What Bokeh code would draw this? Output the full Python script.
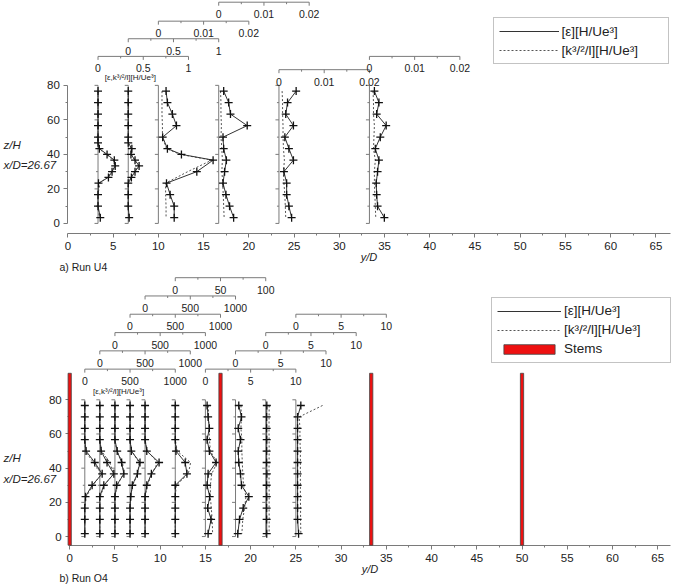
from bokeh.plotting import figure
from bokeh.models import FixedTicker, Legend, LegendItem, Range1d
from bokeh.layouts import column
from bokeh.embed import file_html
from bokeh.resources import INLINE
from bokeh.core.properties import value

# ======================= DATA =======================
# ---- a) Run U4 ----
a_base = [3.33, 6.67, 10.0, 16.67, 23.33, 33.33]          # y/D of each profile
a_full = [1.0, 1.0, 0.02, 0.02, 0.02, 0.02]              # full scale of each profile axis
a_ticks = [["0", "0.5", "1"], ["0", "0.5", "1"],
           ["0", "0.01", "0.02"], ["0", "0.01", "0.02"],
           ["0", "0.01", "0.02"], ["0", "0.01", "0.02"]]
a_z_fine = [76.67, 70.0, 63.33, 56.67, 50.0, 46.67, 43.33, 40.0, 36.67, 33.33, 30.0, 26.67, 23.33, 16.67, 10.0, 3.33]
a_z_mid = [76.67, 70.0, 63.33, 56.67, 50.0, 43.33, 40.0, 36.67, 30.0, 23.33, 16.67, 10.0, 3.33]
a_z_std = [76.67, 70.0, 63.33, 56.67, 50.0, 43.33, 36.67, 30.0, 23.33, 16.67, 10.0, 3.33]

a_eps_1 = [0.0, 0.0, 0.0, 0.0, 0.0, 0.0, 0.015, 0.10, 0.18, 0.19, 0.155, 0.115, 0.005, 0.0, 0.0, 0.025]
a_k_1 = [0.0, 0.0, 0.0, 0.0, 0.0, 0.0, 0.010, 0.09, 0.17, 0.19, 0.150, 0.100, 0.020, 0.0, 0.0, 0.015]
a_eps_2 = [0.0, 0.0, 0.0, 0.0, 0.0, 0.0, 0.04, 0.03, 0.075, 0.12, 0.075, 0.035, 0.0, 0.0, 0.0, 0.01]
a_k_2 = [0.0, 0.0, 0.0, 0.0, 0.0, 0.0, 0.03, 0.035, 0.07, 0.115, 0.07, 0.03, 0.0, 0.0, 0.0, 0.005]
a_eps_3 = [0.0017, 0.0020, 0.0031, 0.0040, 0.00095, 0.0020, 0.0051, 0.0121, 0.0085, 0.0018, 0.0026, 0.0035, 0.0035]
a_k_3 = [0.0008, 0.0008, 0.0008, 0.0009, 0.0009, 0.0018, 0.0048, 0.0118, 0.0065, 0.0016, 0.0016, 0.0017, 0.0017]
a_eps_4 = [0.0011, 0.0022, 0.0026, 0.0063, 0.00095, 0.0011, 0.0017, 0.0013, 0.00095, 0.0016, 0.0024, 0.0033]
a_k_4 = [0.0004, 0.0005, 0.0005, 0.0006, 0.0005, 0.0007, 0.0008, 0.0007, 0.0009, 0.0010, 0.0011, 0.0012]
a_eps_5 = [0.0038, 0.0019, 0.0015, 0.0032, 0.0013, 0.0022, 0.0032, 0.0011, 0.0017, 0.0017, 0.0022, 0.0028]
a_k_5 = [0.0007, 0.0008, 0.0008, 0.0009, 0.0009, 0.0010, 0.0012, 0.0010, 0.0011, 0.0013, 0.0014, 0.0015]
a_eps_6 = [0.0011, 0.0021, 0.0016, 0.0037, 0.0024, 0.0013, 0.0021, 0.0018, 0.0015, 0.0016, 0.0018, 0.0033]
a_k_6 = [0.0008, 0.0009, 0.0009, 0.0011, 0.0010, 0.0009, 0.0013, 0.0011, 0.0011, 0.0012, 0.0013, 0.0014]

# ---- b) Run O4 ----
b_base = [1.67, 3.33, 5.0, 6.67, 8.33, 11.67, 15.0, 18.33, 21.67, 25.0]
b_full = [1000, 1000, 1000, 1000, 1000, 100, 10, 10, 10, 10]
b_ticks = [["0", "500", "1000"]] * 5 + [["0", "50", "100"]] + [["0", "5", "10"]] * 4
b_z = [76.67, 70.0, 63.33, 56.67, 50.0, 43.33, 36.67, 30.0, 23.33, 16.67, 10.0, 1.67]

b_eps_1 = [0, 0, 0, 0, 14, 110, 192, 81, 8, 0, 0, 0]
b_k_1 = [0, 0, 0, 0, 5, 95, 185, 90, 15, 0, 0, 0]
b_eps_2 = [0, 0, 0, 0, 14, 80, 155, 44, 0, 0, 0, 0]
b_k_2 = [0, 0, 0, 0, 20, 110, 150, 50, 5, 0, 0, 0]
b_eps_3 = [0, 0, 0, 0, 25, 74, 99, 19, 0, 0, 0, 0]
b_k_3 = [0, 0, 0, 0, 20, 85, 95, 25, 0, 0, 0, 0]
b_eps_4 = [0, 0, 0, 0, 14, 110, 81, 25, 8, 0, 0, 0]
b_k_4 = [0, 0, 0, 0, 20, 100, 85, 30, 5, 0, 0, 0]
b_eps_5 = [0, 0, 0, 0, 19, 155, 70, 19, 0, 0, 0, 0]
b_k_5 = [0, 0, 0, 0, 25, 140, 75, 25, 0, 0, 0, 0]
b_eps_6 = [0, 0, 0, 0, 0.8, 11.0, 12.9, 0, 0, 0, 0, 0]
b_k_6 = [0, 0, 0, 0, 2.2, 17.0, 14.4, 1.1, 0, 0, 0, 0]
b_eps_7 = [0.19, 0.30, 0.44, 0.19, 0.44, 1.18, 0.30, 0.19, 0.47, 0.25, 0.63, 0.30]
b_k_7 = [0.33, 0.35, 0.40, 0.45, 0.55, 1.30, 0.70, 0.55, 0.55, 0.65, 0.75, 0.80]
b_eps_8 = [0.36, 0.66, 0.30, 0.55, 0.30, 0.36, 0.55, 0.66, 1.47, 0.85, 0.44, 0.25]
b_k_8 = [0.60, 0.65, 0.60, 0.70, 0.70, 0.75, 0.80, 0.90, 1.15, 1.00, 0.80, 0.70]
b_eps_9 = [0.12, 0.10, 0.10, 0.11, 0.10, 0.10, 0.12, 0.10, 0.11, 0.10, 0.10, 0.11]
b_k_9 = [0.38, 0.37, 0.36, 0.37, 0.38, 0.37, 0.36, 0.37, 0.38, 0.37, 0.38, 0.37]
b_eps_10 = [0.55, 0.19, 0.19, 0.19, 0.19, 0.19, 0.19, 0.19, 0.19, 0.19, 0.19, 0.30]
b_k_10 = [2.95, 0.37, 0.45, 0.45, 0.50, 0.50, 0.50, 0.50, 0.50, 0.52, 0.52, 0.55]

stem_x = [0.0, 16.67, 33.33, 50.0]
stem_top = 95.5

x_major = list(range(0, 70, 5))
x_minor = [2.5 + 5 * i for i in range(14)]
z_major = [0, 20, 40, 60, 80]
z_minor = [10, 30, 50, 70]
lab_eps = "[ε][H/Ue³]"
lab_k = "[k³/²/l][H/Ue³]"
lab_units = "[ε,k³/²/l][H/Ue³]"

# ======================= LAYOUT / STYLE =======================
FONT = "Liberation Sans"
PAGE_W = 674
SX = 674 / 675
SY = 587 / 588
W_SPAN = 10.0            # y/D width covered by the full scale of a profile axis
AXC = "#7a7a7a"
TXC = "#222222"

# reference-pixel geometry of each panel
geo_a = dict(top=0.0, height=275, x0=67.5, xppu=9.06, z0=223.3, zppu=1.7288, axis_y=233.0, right=671.0)
geo_b = dict(top=275.5, height=312, x0=69.3, xppu=9.06, z0=537.0, zppu=1.7125, axis_y=545.7, right=671.0)

a_levels = [56.0, 38.3, 20.7, 1.7, 69.3, 56.0]
b_levels = [369.3, 351.0, 332.7, 314.3, 296.0, 277.7, 369.3, 351.0, 332.7, 314.3]


def build(geo, bases, fulls, ticklabels, zlists, eps_lists, k_lists, levels,
          unit_pos, zh_pos, xd_pos, yd_pos, run_pos, run_text, legend_pos, glyph_w, stems):
    H = geo["height"]
    ppx = geo["xppu"] * SX
    ppz = geo["zppu"] * SY

    def xr(rx):
        return (rx - geo["x0"]) / geo["xppu"]

    def zr(ry):
        return (geo["z0"] - ry) / geo["zppu"]

    x_start, x_end = xr(0.0), xr(PAGE_W / SX)
    z_end, z_start = zr(geo["top"]), zr(geo["top"] + H / SY)
    z_axis = zr(geo["axis_y"])

    p = figure(width=PAGE_W, height=H, x_range=Range1d(x_start, x_end),
               y_range=Range1d(z_start, z_end), output_backend="svg",
               toolbar_location=None, min_border=0)
    p.outline_line_color = None
    p.xgrid.visible = False
    p.ygrid.visible = False

    for ax in (p.xaxis[0], p.yaxis[0]):
        ax.axis_line_color = AXC
        ax.major_tick_line_color = AXC
        ax.minor_tick_line_color = AXC
        ax.major_tick_in = 0
        ax.minor_tick_in = 0
        ax.major_tick_out = 4
        ax.minor_tick_out = 2
        ax.major_label_text_font = FONT
        ax.major_label_text_font_size = "11.5px"
        ax.major_label_text_color = TXC
    p.xaxis.major_label_standoff = 5
    p.yaxis.major_label_standoff = 4
    p.xaxis.ticker = FixedTicker(ticks=x_major, minor_ticks=x_minor)
    p.yaxis.ticker = FixedTicker(ticks=z_major, minor_ticks=z_minor)
    p.yaxis.bounds = (0, 80)
    p.yaxis.fixed_location = 0
    p.xaxis.bounds = (0, xr(geo["right"]))
    p.xaxis.fixed_location = z_axis

    n = len(bases)
    # profile base lines with their small ticks
    p.segment(x0=bases, y0=[0] * n, x1=bases, y1=[80] * n, line_color=AXC, line_width=1)
    tx0, tx1, ty = [], [], []
    for b in bases:
        for zt in z_major + z_minor:
            ln = (3.5 if zt in z_major else 2.0) / ppx
            tx0.append(b - ln)
            tx1.append(b)
            ty.append(zt)
    p.segment(x0=tx0, y0=ty, x1=tx1, y1=ty, line_color=AXC, line_width=1)

    # small top axes of each profile
    lx0, lx1, ly = [], [], []
    kx, ky0, ky1 = [], [], []
    tlx, tly, tlt = [], [], []
    for b, R, tl, lev in zip(bases, fulls, ticklabels, levels):
        zl = zr(lev)
        lx0.append(b)
        lx1.append(b + W_SPAN)
        ly.append(zl)
        for q in range(5):
            ln = (3.5 if q % 2 == 0 else 2.0) / ppz
            kx.append(b + W_SPAN * q / 4)
            ky0.append(zl)
            ky1.append(zl - ln)
        for t in tl:
            tlx.append(b + float(t) / R * W_SPAN)
            tly.append(zl - 12.0 / geo["zppu"])
            tlt.append(t)
    p.segment(x0=lx0, y0=ly, x1=lx1, y1=ly, line_color=AXC, line_width=1)
    p.segment(x0=kx, y0=ky0, x1=kx, y1=ky1, line_color=AXC, line_width=1)
    p.text(x=tlx, y=tly, text=tlt, text_font=value(FONT), text_font_size="10.5px",
           text_align="center", text_baseline="middle", text_color=TXC)

    # stems
    sr = None
    if stems:
        sr = p.vbar(x=stem_x, width=0.36, bottom=z_axis, top=stem_top,
                    fill_color="#ee1111", line_color="#444444", line_width=0.8,
                    level="overlay")

    # profiles
    first = None
    for b, R, z, e, k in zip(bases, fulls, zlists, eps_lists, k_lists):
        xe = [b + v / R * W_SPAN for v in e]
        xk = [b + v / R * W_SPAN for v in k]
        rk = p.line(x=xk, y=z, line_color="#555555", line_dash="2 2", line_width=1)
        re = p.line(x=xe, y=z, line_color="#333333", line_width=1)
        p.scatter(x=xe, y=z, marker="cross", size=8, line_color="#111111", line_width=1.3)
        if first is None:
            first = (re, rk)
    lm = p.scatter(x=[], y=[], marker="cross", size=4, line_color="#888888", line_width=1)

    # texts
    for (rx, ry), txt, size, style, align in [
        (unit_pos, lab_units, "8px", "normal", "center"),
        (zh_pos, "z/H", "11.5px", "italic", "left"),
        (xd_pos, "x/D=26.67", "11.5px", "italic", "left"),
        (yd_pos, "y/D", "11px", "italic", "center"),
        (run_pos, run_text, "10.5px", "normal", "left"),
    ]:
        p.text(x=[xr(rx)], y=[zr(ry)], text=[txt], text_font=value(FONT),
               text_font_size=size, text_font_style=style, text_align=align,
               text_baseline="middle", text_color=TXC)

    # legend
    items = [LegendItem(label=lab_eps, renderers=[first[0], lm]),
             LegendItem(label=lab_k, renderers=[first[1]])]
    if sr is not None:
        items.append(LegendItem(label="Stems", renderers=[sr]))
    pad, lh, sp, stand = 5, 16, 3, 3
    nrow = len(items)
    leg_h = 2 * pad + nrow * lh + (nrow - 1) * sp
    box_w = (legend_pos[2] - legend_pos[0]) * SX
    vx = legend_pos[0] * SX
    top_px = (legend_pos[1] - geo["top"]) * SY
    vy = H - top_px - leg_h
    leg = Legend(items=items, location=(vx, vy), padding=pad, spacing=sp,
                 label_height=lh, glyph_height=12, glyph_width=glyph_w,
                 label_width=int(box_w - 2 * pad - glyph_w - stand),
                 label_standoff=stand, label_text_font=FONT, label_text_font_size="13.5px",
                 label_text_color=TXC, border_line_color="#888888",
                 background_fill_color="white", background_fill_alpha=1.0, margin=0)
    p.add_layout(leg)
    return p


pa = build(geo_a, a_base, a_full, a_ticks,
           [a_z_fine, a_z_fine, a_z_mid, a_z_std, a_z_std, a_z_std],
           [a_eps_1, a_eps_2, a_eps_3, a_eps_4, a_eps_5, a_eps_6],
           [a_k_1, a_k_2, a_k_3, a_k_4, a_k_5, a_k_6],
           a_levels, (130.0, 77.3), (3.0, 145.0), (3.0, 165.0), (369.0, 256.5),
           (59.0, 266.5), "a) Run U4", (493.3, 19.3, 667.7), 60, False)

pb = build(geo_b, b_base, b_full, b_ticks, [b_z] * 10,
           [b_eps_1, b_eps_2, b_eps_3, b_eps_4, b_eps_5, b_eps_6, b_eps_7, b_eps_8, b_eps_9, b_eps_10],
           [b_k_1, b_k_2, b_k_3, b_k_4, b_k_5, b_k_6, b_k_7, b_k_8, b_k_9, b_k_10],
           b_levels, (118.3, 391.7), (3.0, 458.3), (3.0, 479.3), (370.0, 569.3),
           (59.0, 578.5), "b) Run O4", (491.7, 299.3, 670.7), 64, True)

layout = column(pa, pb, spacing=0)
open("out.html", "w").write(file_html(layout, INLINE))
